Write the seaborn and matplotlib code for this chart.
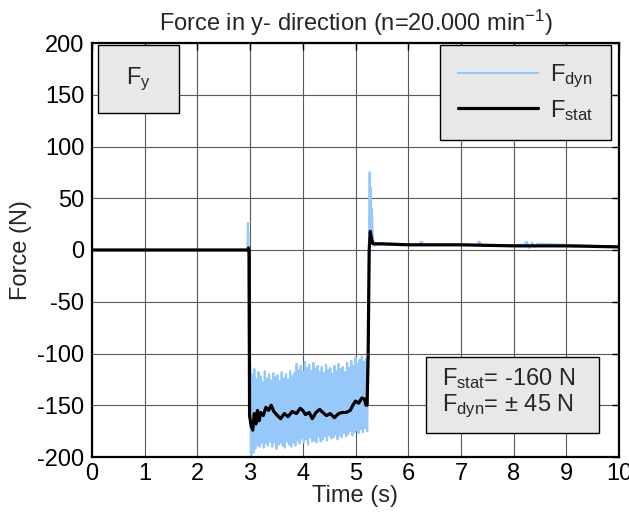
import numpy as np
import pandas as pd
import matplotlib
matplotlib.use("Agg")
import matplotlib.pyplot as plt
import seaborn as sns
from matplotlib.patches import Rectangle

# dynamic force: explicit points before / after the cut, sampled block during the cut
pre_t = [0.0, 2.95, 2.96, 2.97, 2.98, 2.99]
pre_v = [0, 0, 26, -3, -90, -150]

cut_t0 = 3.0
cut_dt = 0.02
cut_v = [
    -112, -200, -120, -196, -115, -192,
    -125, -188, -118, -190, -122, -186, -128, -191, -117, -187, -124, -189, -120, -185,
    -126, -190, -119, -186, -123, -192, -121, -188, -127, -186, -118, -189,
    -124, -191, -120, -185, -125, -188, -117, -190, -122, -186, -119, -189,
    -110, -184, -116, -187, -112, -182, -118, -186, -108, -183, -114, -188,
    -111, -181, -117, -185, -109, -184, -115, -186, -112, -180, -118, -185,
    -113, -183, -119, -180, -111, -184, -116, -179, -114, -182, -120, -181,
    -112, -178, -117, -183, -110, -179, -115, -181, -113, -177, -118, -180,
    -109, -178, -114, -175, -107, -179, -112, -176, -104, -174,
    -110, -177, -106, -173, -103, -176, -108, -172, -105, -175,
]

post_t = [5.23, 5.24, 5.25, 5.26, 5.27, 5.28, 5.29, 5.30, 5.31, 5.33, 5.36, 5.40,
          6.20, 6.25, 6.30, 7.30, 7.35, 7.40, 8.20, 8.25, 8.30, 8.35, 8.40, 8.45, 9.50, 10.0]
post_v = [-150, -120, -40, 30, 75, 25, 60, 15, 40, 10, 4, 5,
          5, 8, 5, 5, 8, 4, 5, 8, 2, 7, 3, 6, 4, 3]

# static force
stat_t = [0.0, 2.96, 2.97, 2.98, 2.99, 3.02, 3.05, 3.08, 3.11, 3.14, 3.17, 3.20, 3.25,
          3.30, 3.35, 3.40, 3.45, 3.52, 3.58, 3.65, 3.72, 3.80, 3.88, 3.95, 4.00, 4.05,
          4.12, 4.18, 4.25, 4.32, 4.38, 4.45, 4.52, 4.60, 4.68, 4.75, 4.82, 4.90, 4.95,
          5.00, 5.06, 5.12, 5.17, 5.20, 5.22, 5.24, 5.26, 5.28, 5.30, 5.33, 5.50, 6.0,
          7.0, 8.0, 9.0, 10.0]
stat_v = [0, 0, 2, 0, -160, -170, -174, -158, -168, -155, -165, -157, -160,
          -152, -155, -150, -156, -160, -163, -158, -161, -156, -158, -153, -155, -159,
          -157, -163, -157, -154, -157, -160, -158, -162, -158, -157, -157, -155, -150,
          -146, -148, -143, -144, -150, -150, -100, 0, 18, 12, 6, 6, 5,
          5, 4, 4, 3]

cut_t = cut_t0 + cut_dt * np.arange(len(cut_v))
dyn = pd.DataFrame({
    "t": np.concatenate([pre_t, cut_t, post_t]),
    "F": np.concatenate([pre_v, cut_v, post_v]),
})
stat = pd.DataFrame({"t": stat_t, "F": stat_v})

sns.set_theme(style="whitegrid")
plt.rcParams["font.family"] = ["Liberation Sans", "DejaVu Sans"]
plt.rcParams["mathtext.fontset"] = "custom"
plt.rcParams["mathtext.rm"] = "Liberation Sans"
plt.rcParams["mathtext.it"] = "Liberation Sans:italic"
plt.rcParams["axes.unicode_minus"] = False

FS = 17

fig = plt.figure(figsize=(6.29, 5.15), dpi=100)
ax = fig.add_axes([92 / 629, 1 - 457 / 515, 527 / 629, 414 / 515])
ax.set_facecolor("white")

sns.lineplot(data=dyn, x="t", y="F", ax=ax, color="#96c8fa", lw=1.6,
             estimator=None, sort=False, label=r"F$_{\mathrm{dyn}}$")
sns.lineplot(data=stat, x="t", y="F", ax=ax, color="black", lw=2.3,
             estimator=None, sort=False, label=r"F$_{\mathrm{stat}}$")

ax.set_xlim(0, 10)
ax.set_ylim(-200, 200)
ax.set_xticks(range(0, 11))
ax.set_yticks(range(-200, 201, 50))
ax.grid(True, color="#5a5a5a", lw=0.8)
for s in ax.spines.values():
    s.set_color("black")
    s.set_linewidth(1.6)
ax.tick_params(direction="in", length=5, width=1, colors="black", labelsize=FS,
               top=True, right=True, pad=5.5)
ax.tick_params(axis="x", pad=4)

ax.set_title(r"Force in y- direction (n=20.000 min$^{-1}$)", fontsize=FS, pad=9)
ax.set_xlabel("Time (s)", fontsize=FS, labelpad=0)
ax.set_ylabel("Force (N)", fontsize=FS, labelpad=3.5)

leg = ax.legend(loc="upper right", bbox_to_anchor=(0.985, 0.995), borderaxespad=0,
                fontsize=FS, frameon=True, fancybox=False, framealpha=1,
                facecolor="#e8e8e8", edgecolor="black", handlelength=3.4,
                handletextpad=0.5, labelspacing=0.32, borderpad=0.75)
leg.get_frame().set_linewidth(1.0)
leg.set_zorder(5)

# F_y label box
ax.add_patch(Rectangle((0.012, 0.831), 0.154, 0.164, transform=ax.transAxes,
                       facecolor="#e8e8e8", edgecolor="black", lw=1.0, zorder=4))
ax.text(0.089, 0.913, r"F$_{\mathrm{y}}$", transform=ax.transAxes, fontsize=FS,
        ha="center", va="center", zorder=5)

# result box
ax.add_patch(Rectangle((0.634, 0.058), 0.328, 0.1835, transform=ax.transAxes,
                       facecolor="#e8e8e8", edgecolor="black", lw=1.0, zorder=4))
ax.text(0.664, 0.190, r"F$_{\mathrm{stat}}$= -160 N", transform=ax.transAxes,
        fontsize=FS, ha="left", va="center", zorder=5)
ax.text(0.664, 0.122, r"F$_{\mathrm{dyn}}$= ± 45 N", transform=ax.transAxes,
        fontsize=FS, ha="left", va="center", zorder=5)

fig.savefig("out.png", dpi=100)
